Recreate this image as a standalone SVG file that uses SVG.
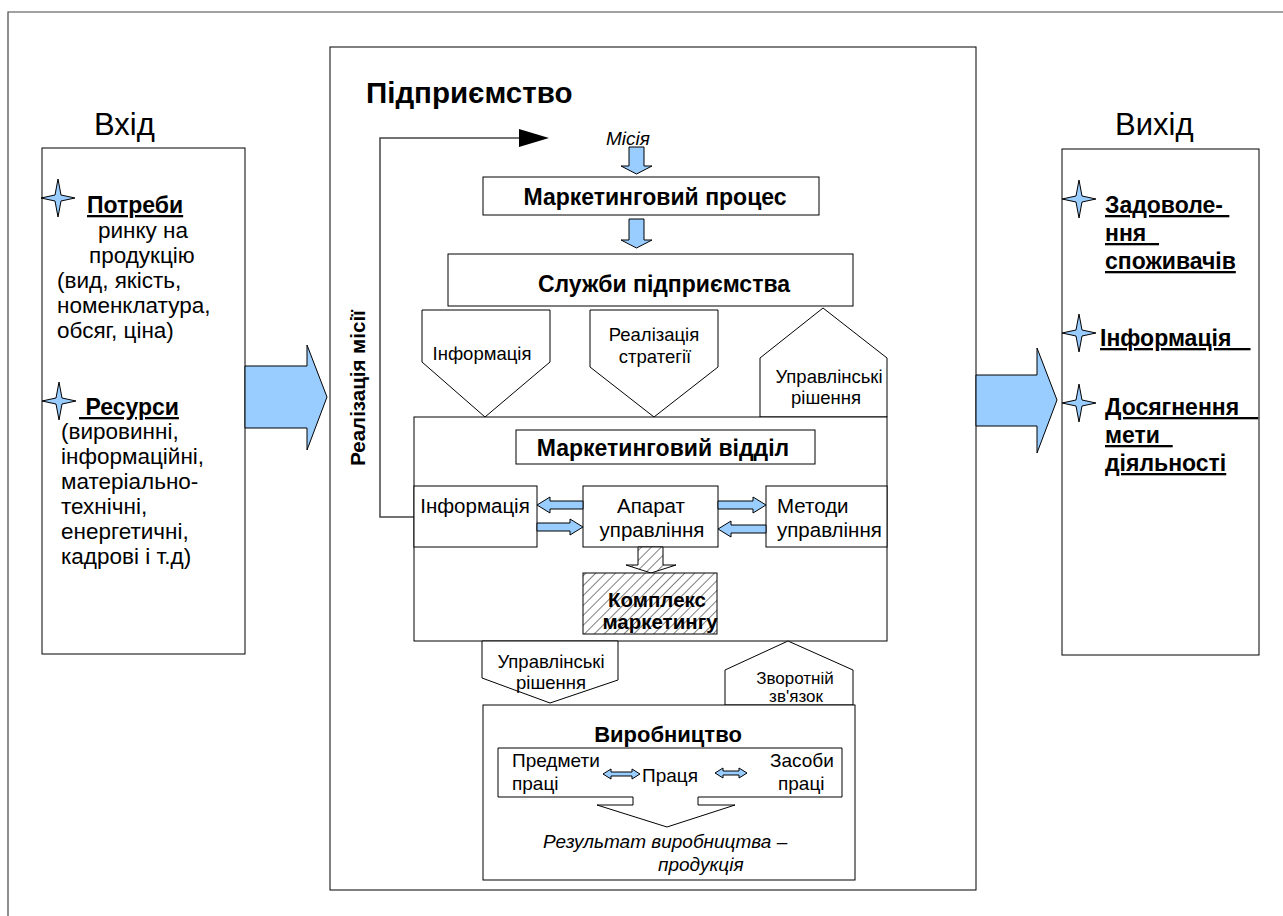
<svg xmlns="http://www.w3.org/2000/svg" width="1283" height="916" viewBox="0 0 1283 916">
<defs>
<style>
.box{fill:#fff;stroke:#000;stroke-width:1}
.blue{fill:#99ccff;stroke:#000;stroke-width:1}
.ln{fill:none;stroke:#444;stroke-width:1.5}
text{font-family:"Liberation Sans",Arial,sans-serif;fill:#000}
.b{font-weight:bold}
.i{font-style:italic}
.u{text-decoration:underline}
.m{text-anchor:middle}
.f23{font-size:23px}
.f22{font-size:22.5px}
.f20{font-size:20.5px}
.f18{font-size:18.5px}
</style>
<path id="star" d="M-17,0 L-3,-3 L0,-19 L3,-3 L17,0 L3,3 L0,19 L-3,3 Z" fill="#99ccff" stroke="#000" stroke-width="1"/>
<pattern id="hatch" patternUnits="userSpaceOnUse" width="7" height="7" patternTransform="rotate(45)">
<rect width="7" height="7" fill="#fff"/>
<line x1="0" y1="0" x2="0" y2="7" stroke="#000" stroke-width="1"/>
</pattern>
</defs>
<rect width="1283" height="916" fill="#fff"/>
<path d="M8,916 V12 H1283" fill="none" stroke="#444" stroke-width="1.2"/>

<g id="input">
<text x="94" y="135" style="font-size:31px">Вхід</text>
<rect class="box" x="42" y="148" width="203" height="506"/>
<use href="#star" x="58" y="198"/>
<text x="87" y="213" class="b u f23">Потреби</text>
<text class="f22"><tspan x="98" y="238">ринку на</tspan><tspan x="89" y="263">продукцію</tspan><tspan x="57" y="288">(вид, якість,</tspan><tspan x="57" y="313">номенклатура,</tspan><tspan x="57" y="338">обсяг, ціна)</tspan></text>
<use href="#star" x="59" y="401"/>
<text x="79" y="415" class="b u f23" xml:space="preserve"> Ресурси</text>
<text class="f22"><tspan x="61" y="439">(вировинні,</tspan><tspan x="61" y="464">інформаційні,</tspan><tspan x="61" y="489">матеріально-</tspan><tspan x="61" y="514">технічні,</tspan><tspan x="61" y="539">енергетичні,</tspan><tspan x="61" y="564">кадрові і т.д)</tspan></text>
</g>

<g id="output">
<text x="1115" y="135" style="font-size:31px">Вихід</text>
<rect class="box" x="1062" y="149" width="197" height="506"/>
<use href="#star" x="1079" y="199"/>
<use href="#star" x="1079" y="333"/>
<use href="#star" x="1079" y="403"/>
<text class="b u f23" xml:space="preserve"><tspan x="1105" y="213">Задоволе- </tspan><tspan x="1105" y="241">ння  </tspan><tspan x="1105" y="269">споживачів</tspan></text>
<text class="b u f23" x="1100" y="346" xml:space="preserve">Інформація   </text>
<text class="b u f23" xml:space="preserve"><tspan x="1105" y="415">Досягнення   </tspan><tspan x="1105" y="443">мети  </tspan><tspan x="1105" y="471">діяльності</tspan></text>
</g>

<g id="enterprise">
<rect class="box" x="330" y="47" width="646" height="843"/>
<text x="366" y="103" class="b" style="font-size:29.5px">Підприємство</text>
</g>

<g id="connectors">
<polygon class="blue" points="245,366 307,366 307,345 327,397 307,450 307,428 245,428"/>
<polygon class="blue" points="976,375 1037,375 1037,348 1057,400 1037,453 1037,426 976,426"/>
<path class="ln" d="M414,517 H380 V138 H522"/>
<polygon points="519,129 549,138 519,147" fill="#000"/>
<polygon class="blue" points="629,147 644,147 644,166 652,166 636.5,174 621,166 629,166"/>
<polygon class="blue" points="629,219 644,219 644,240 652,240 636.5,248 621,240 629,240"/>
</g>

<g id="mission">
<text x="628" y="145" class="i m" style="font-size:19px">Місія</text>
</g>
<g id="mission-realisation">
<text class="b m" style="font-size:20.5px" transform="translate(365,388) rotate(-90)">Реалізація місії</text>
</g>

<g id="marketing-process">
<rect class="box" x="483" y="177" width="336" height="38"/>
<text x="655" y="205" class="b m f23">Маркетинговий процес</text>
</g>

<g id="services">
<rect class="box" x="448" y="254" width="405" height="52"/>
<text x="664" y="292" class="b m f23">Служби підприємства</text>
</g>

<g id="p-info">
<polygon class="box" points="422,310 550,310 550,362 485,417 422,362"/>
<text x="482" y="360" class="m f18">Інформація</text>
</g>
<g id="p-strategy">
<polygon class="box" points="590,310 718,310 718,367 654,417 590,367"/>
<text class="m f18"><tspan x="654" y="341">Реалізація</tspan><tspan x="655" y="363">стратегії</tspan></text>
</g>
<g id="p-decisions-top">
<polygon class="box" points="760,417 760,358 823,308 887,358 887,417"/>
<text class="m f18"><tspan x="829" y="383">Управлінські</tspan><tspan x="826" y="404">рішення</tspan></text>
</g>

<g id="marketing-dept">
<rect class="box" x="414" y="417" width="473" height="224"/>
<rect class="box" x="516" y="430" width="299" height="34"/>
<text x="663" y="456" class="b m f23">Маркетинговий відділ</text>
</g>

<g id="info-box">
<rect class="box" x="414" y="486" width="123" height="61"/>
<text x="475" y="513" class="m f20">Інформація</text>
</g>
<g id="apparatus">
<rect class="box" x="583" y="486" width="135" height="61"/>
<text class="m f20"><tspan x="651" y="513">Апарат</tspan><tspan x="652" y="537">управління</tspan></text>
</g>
<g id="methods">
<rect class="box" x="766" y="486" width="121" height="61"/>
<text class="f20"><tspan x="777" y="513">Методи</tspan><tspan x="777" y="537">управління</tspan></text>
</g>

<g id="dept-arrows">
<polygon class="blue" points="537,505 550,497 550,501 583,501 583,509 550,509 550,513"/>
<polygon class="blue" points="583,527 570,519 570,523 537,523 537,531 570,531 570,535"/>
<polygon class="blue" points="766,505 753,497 753,501 718,501 718,509 753,509 753,513"/>
<polygon class="blue" points="718,529 731,521 731,525 766,525 766,533 731,533 731,537"/>
<polygon points="638,547 663,547 663,565 676,565 651,573 626,565 638,565" fill="url(#hatch)" stroke="#000" stroke-width="1"/>
</g>

<g id="complex">
<rect x="583" y="573" width="134" height="61" fill="url(#hatch)" stroke="#000" stroke-width="1"/>
<text class="b m f20"><tspan x="657" y="607">Комплекс</tspan><tspan x="660" y="629">маркетингу</tspan></text>
</g>

<g id="p-decisions-bottom">
<polygon class="box" points="482,641 618,641 618,680 550,703 482,678"/>
<text class="m f18"><tspan x="551" y="668">Управлінські</tspan><tspan x="551" y="689">рішення</tspan></text>
</g>
<g id="p-feedback">
<polygon class="box" points="725,705 725,670 788,641 853,670 853,705"/>
<text class="m" style="font-size:17px"><tspan x="795" y="684">Зворотній</tspan><tspan x="796" y="702">зв'язок</tspan></text>
</g>

<g id="production">
<rect class="box" x="483" y="705" width="372" height="175"/>
<text x="668" y="742" class="b m" style="font-size:22px">Виробництво</text>
<path d="M633,797 H498 V748 H842 V797 H698" fill="none" stroke="#000" stroke-width="1"/>
<path d="M633,797 V805 H597 L667,827 L735,805 H698 V797" fill="none" stroke="#000" stroke-width="1"/>
<text style="font-size:19px"><tspan x="512" y="767">Предмети</tspan><tspan x="512" y="790">праці</tspan></text>
<text x="642" y="782" style="font-size:19px">Праця</text>
<text style="font-size:19px"><tspan x="770" y="767">Засоби</tspan><tspan x="778" y="790">праці</tspan></text>
<polygon class="blue" points="603,774 611,769 611,772 632,772 632,769 640,774 632,779 632,776 611,776 611,779"/>
<polygon class="blue" points="715,773 723,768 723,771 739,771 739,768 747,773 739,778 739,775 723,775 723,778"/>
<text class="i" style="font-size:19px"><tspan x="543" y="848">Результат виробництва –</tspan><tspan x="658" y="871">продукція</tspan></text>
</g>
</svg>
